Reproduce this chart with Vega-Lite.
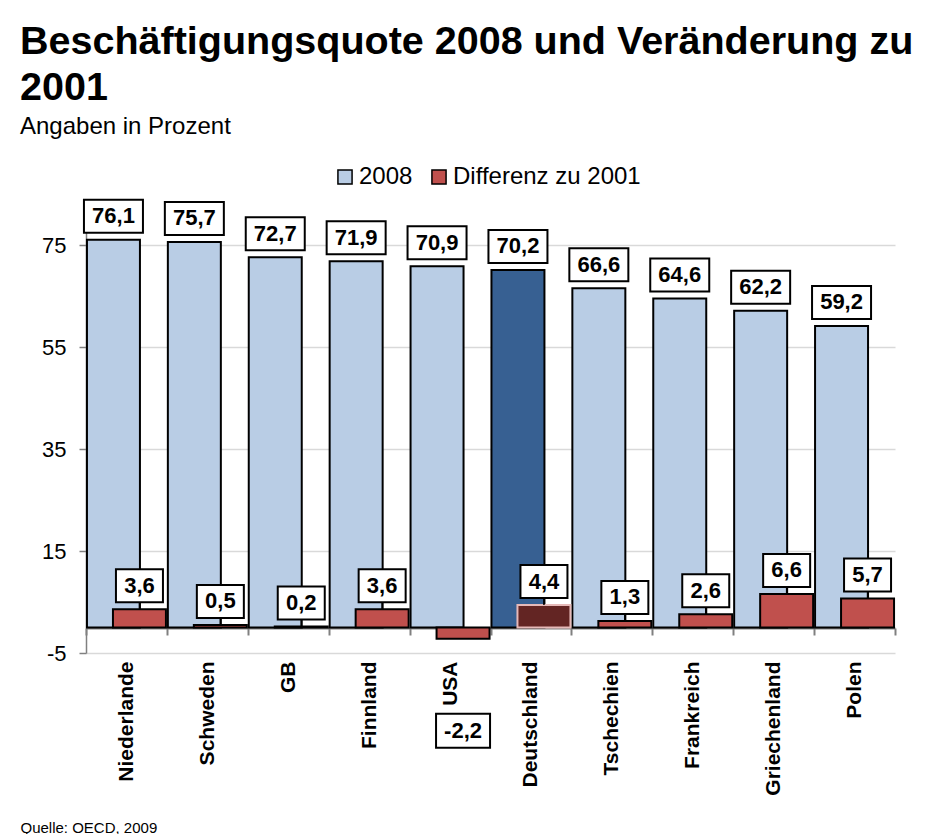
{
  "$schema": "https://vega.github.io/schema/vega-lite/v6.json",
  "width": 809,
  "height": 433,
  "autosize": "none",
  "padding": {"left": 86, "top": 220, "right": 33, "bottom": 181},
  "background": "white",
  "title": {
    "text": ["Beschäftigungsquote 2008 und Veränderung zu", "2001"],
    "subtitle": "Angaben in Prozent",
    "anchor": "start",
    "frame": "group",
    "dx": -66,
    "offset": 25,
    "font": "Liberation Sans",
    "fontSize": 39.5,
    "fontWeight": "bold",
    "lineHeight": 46,
    "color": "black",
    "subtitleFont": "Liberation Sans",
    "subtitleFontSize": 24,
    "subtitleColor": "black",
    "subtitlePadding": 7
  },
  "data": {
    "values": [
      {"land": "Niederlande", "serie": "2008", "wert": 76.1},
      {"land": "Schweden", "serie": "2008", "wert": 75.7},
      {"land": "GB", "serie": "2008", "wert": 72.7},
      {"land": "Finnland", "serie": "2008", "wert": 71.9},
      {"land": "USA", "serie": "2008", "wert": 70.9},
      {"land": "Deutschland", "serie": "2008", "wert": 70.2},
      {"land": "Tschechien", "serie": "2008", "wert": 66.6},
      {"land": "Frankreich", "serie": "2008", "wert": 64.6},
      {"land": "Griechenland", "serie": "2008", "wert": 62.2},
      {"land": "Polen", "serie": "2008", "wert": 59.2},
      {"land": "Niederlande", "serie": "Differenz zu 2001", "wert": 3.6},
      {"land": "Schweden", "serie": "Differenz zu 2001", "wert": 0.5},
      {"land": "GB", "serie": "Differenz zu 2001", "wert": 0.2},
      {"land": "Finnland", "serie": "Differenz zu 2001", "wert": 3.6},
      {"land": "USA", "serie": "Differenz zu 2001", "wert": -2.2},
      {"land": "Deutschland", "serie": "Differenz zu 2001", "wert": 4.4},
      {"land": "Tschechien", "serie": "Differenz zu 2001", "wert": 1.3},
      {"land": "Frankreich", "serie": "Differenz zu 2001", "wert": 2.6},
      {"land": "Griechenland", "serie": "Differenz zu 2001", "wert": 6.6},
      {"land": "Polen", "serie": "Differenz zu 2001", "wert": 5.7}
    ]
  },
  "encoding": {
    "x": {
      "field": "land", "type": "nominal", "sort": null,
      "scale": {"paddingInner": 0, "paddingOuter": 0},
      "axis": {
        "title": "Quelle: OECD, 2009",
        "orient": "bottom",
        "offset": -25,
        "labelAngle": -90,
        "labelFont": "Liberation Sans",
        "labelFontSize": 21,
        "labelFontWeight": "bold",
        "labelColor": "black",
        "labelPadding": 26,
        "tickSize": 7,
        "tickBand": "extent",
        "tickColor": "#808080",
        "tickWidth": 2,
        "domainColor": "#808080",
        "domainWidth": 2,
        "titleFont": "Liberation Sans",
        "titleFontSize": 15,
        "titleFontWeight": "normal",
        "titleColor": "black",
        "titleAnchor": "start",
        "titleAlign": "left",
        "titleX": -66,
        "titleY": 204,
        "titleBaseline": "alphabetic"
      }
    },
    "y": {
      "field": "wert", "type": "quantitative",
      "scale": {"domain": [-5, 80], "nice": false, "zero": false},
      "axis": {
        "title": null,
        "values": [-5, 15, 35, 55, 75],
        "format": "d",
        "grid": true,
        "gridColor": "#D9D9D9",
        "gridWidth": 1.5,
        "domainColor": "#808080",
        "domainWidth": 1.5,
        "tickColor": "#808080",
        "tickSize": 7,
        "tickWidth": 1.5,
        "labelFont": "Liberation Sans",
        "labelFontSize": 22,
        "labelPadding": 13,
        "labelColor": "black"
      }
    }
  },
  "layer": [
    {
      "transform": [{"filter": "datum.serie === '2008'"}],
      "mark": {"type": "bar", "width": {"band": 0.655}, "xOffset": -13, "stroke": "black", "strokeWidth": 2},
      "encoding": {
        "color": {
          "condition": {"test": "datum.land === 'Deutschland'", "value": "#376092"},
          "field": "serie", "type": "nominal",
          "scale": {"domain": ["2008", "Differenz zu 2001"], "range": ["#B9CDE5", "#C0504D"]},
          "legend": {
            "orient": "none", "legendX": 247, "legendY": -55, "direction": "horizontal", "title": null,
            "labelFont": "Liberation Sans", "labelFontSize": 24, "labelColor": "black", "labelLimit": 0,
            "symbolType": "square", "symbolSize": 200, "symbolStrokeColor": "black", "symbolStrokeWidth": 1.5,
            "columnPadding": 14, "labelOffset": 2
          }
        }
      }
    },
    {
      "transform": [{"filter": "datum.serie === 'Differenz zu 2001'"}],
      "mark": {"type": "bar", "width": {"band": 0.655}, "xOffset": 13, "strokeWidth": 2},
      "encoding": {
        "color": {
          "condition": {"test": "datum.land === 'Deutschland'", "value": "#632523"},
          "field": "serie", "type": "nominal",
          "scale": {"domain": ["2008", "Differenz zu 2001"], "range": ["#B9CDE5", "#C0504D"]},
          "legend": {
            "orient": "none", "legendX": 247, "legendY": -55, "direction": "horizontal", "title": null,
            "labelFont": "Liberation Sans", "labelFontSize": 24, "labelColor": "black", "labelLimit": 0,
            "symbolType": "square", "symbolSize": 200, "symbolStrokeColor": "black", "symbolStrokeWidth": 1.5,
            "columnPadding": 14, "labelOffset": 2
          }
        },
        "stroke": {
          "condition": {"test": "datum.land === 'Deutschland'", "value": "#E6B9B8"},
          "value": "black"
        }
      }
    },
    {
      "transform": [{"filter": "datum.serie === '2008'"}],
      "mark": {"type": "bar", "width": 59, "xOffset": -13, "yOffset": -40, "y2Offset": -7, "fill": "white", "stroke": "black", "strokeWidth": 2},
      "encoding": {"y2": {"field": "wert"}}
    },
    {
      "transform": [{"filter": "datum.serie === '2008'"}],
      "mark": {"type": "text", "xOffset": -13, "yOffset": -23.5, "baseline": "middle", "align": "center", "font": "Liberation Sans", "fontSize": 22, "fontWeight": "bold", "color": "black"},
      "encoding": {"text": {"field": "wert", "type": "quantitative", "format": ".1f"}}
    },
    {
      "transform": [{"filter": "datum.serie === 'Differenz zu 2001' && datum.wert >= 0"}],
      "mark": {"type": "rule", "xOffset": 13, "yOffset": -7, "y2Offset": 0, "stroke": "black", "strokeWidth": 1.5},
      "encoding": {"y2": {"field": "wert"}}
    },
    {
      "transform": [{"filter": "datum.serie === 'Differenz zu 2001' && datum.wert >= 0"}],
      "mark": {"type": "bar", "width": 47, "xOffset": 13, "yOffset": -40, "y2Offset": -7, "fill": "white", "stroke": "black", "strokeWidth": 2},
      "encoding": {"y2": {"field": "wert"}}
    },
    {
      "transform": [{"filter": "datum.serie === 'Differenz zu 2001' && datum.wert < 0"}],
      "mark": {"type": "bar", "width": 54, "xOffset": 13, "yOffset": 75, "y2Offset": 109, "fill": "white", "stroke": "black", "strokeWidth": 2},
      "encoding": {"y2": {"field": "wert"}}
    },
    {
      "transform": [{"filter": "datum.serie === 'Differenz zu 2001' && datum.wert >= 0"}],
      "mark": {"type": "text", "xOffset": 13, "yOffset": -23.5, "baseline": "middle", "align": "center", "font": "Liberation Sans", "fontSize": 22, "fontWeight": "bold", "color": "black"},
      "encoding": {"text": {"field": "wert", "type": "quantitative", "format": ".1f"}}
    },
    {
      "transform": [{"filter": "datum.serie === 'Differenz zu 2001' && datum.wert < 0"}],
      "mark": {"type": "text", "xOffset": 13, "yOffset": 92, "baseline": "middle", "align": "center", "font": "Liberation Sans", "fontSize": 22, "fontWeight": "bold", "color": "black"},
      "encoding": {"text": {"field": "wert", "type": "quantitative", "format": ".1f"}}
    }
  ],
  "config": {
    "font": "Liberation Sans",
    "view": {"stroke": null},
    "locale": {
      "number": {"decimal": ",", "thousands": ".", "grouping": [3], "currency": ["", " €"], "minus": "-"}
    }
  }
}
